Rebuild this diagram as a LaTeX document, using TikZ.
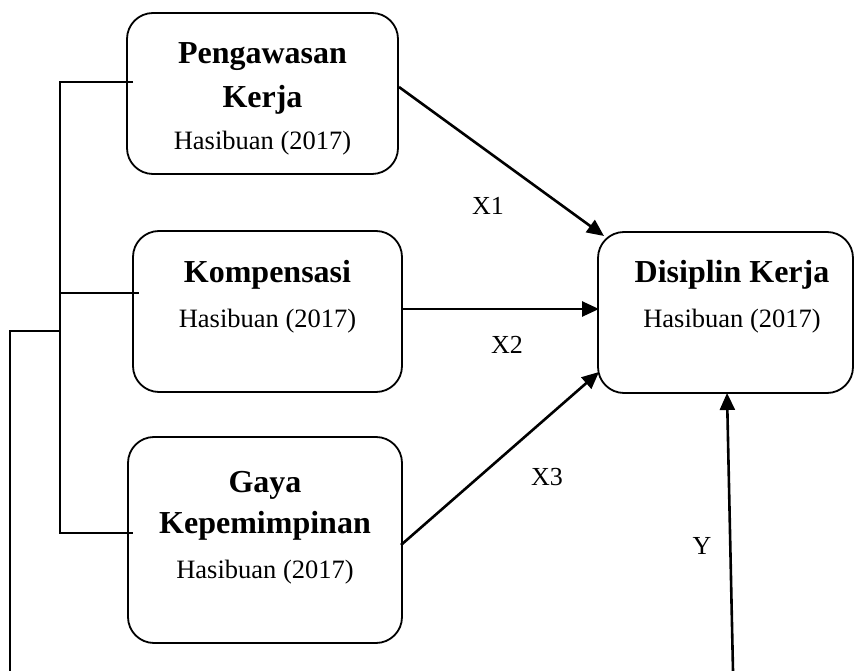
\documentclass[tikz,border=0pt]{standalone}
\usepackage{fontspec}
\setmainfont{Liberation Serif}
\usetikzlibrary{arrows.meta}
\tikzset{
  boxnode/.style={draw, line width=1.8pt, rounded corners=26pt, inner sep=0pt, minimum width=#1},
  titletext/.style={anchor=base, inner sep=0pt, font=\fontsize{32}{38}\selectfont\bfseries},
  reftext/.style={anchor=base, inner sep=0pt, font=\fontsize{26.5}{32}\selectfont},
  lbl/.style={anchor=base, inner sep=0pt, font=\fontsize{26}{32}\selectfont},
  conn/.style={line width=2.6pt, -{Triangle[length=17pt,width=15pt]}},
  brk/.style={line width=1.6pt}
}
\begin{document}
\begin{tikzpicture}[x=1pt,y=-1pt]
\useasboundingbox (0,0) rectangle (855,671);
% boxes
\node[boxnode=271pt, minimum height=161pt] (b1) at (262.5,93.5) {};
\node[boxnode=269pt, minimum height=161pt] (b2) at (267.5,311.5) {};
\node[boxnode=274pt, minimum height=206pt] (b3) at (265,540) {};
\node[boxnode=255pt, minimum height=161pt] (b4) at (725.5,312.5) {};
% texts
\node[titletext] (t1a) at (262.5,64) {Pengawasan};
\node[titletext] (t1b) at (262.5,108) {Kerja};
\node[reftext] (t1c) at (262.5,150) {Hasibuan (2017)};
\node[titletext] (t2a) at (267.5,283) {Kompensasi};
\node[reftext] (t2b) at (267.5,327) {Hasibuan (2017)};
\node[titletext] (t3a) at (265,492) {Gaya};
\node[titletext] (t3b) at (265,533) {Kepemimpinan};
\node[reftext] (t3c) at (265,578) {Hasibuan (2017)};
\node[titletext] (t4a) at (732,283) {Disiplin Kerja};
\node[reftext] (t4b) at (732,328) {Hasibuan (2017)};
% arrow endpoints
\coordinate (s1) at (399,87);
\coordinate (e1) at (604,236);
\coordinate (s2) at (401,309);
\coordinate (e2) at (599,309);
\coordinate (s3) at (401,545);
\coordinate (e3) at (599,372);
\coordinate (sy) at (733,671);
\coordinate (ey) at (727,393);
\draw[conn] (s1) -- (e1);
\draw[conn] (s2) -- (e2);
\draw[conn] (s3) -- (e3);
\draw[conn] (sy) -- (ey);
% labels
\node[lbl] (lx1) at (488,215) {X1};
\node[lbl] (lx2) at (507,354) {X2};
\node[lbl] (lx3) at (547,485) {X3};
\node[lbl] (ly) at (702,554) {Y};
% bracket
\coordinate (k1) at (60,82);
\coordinate (k1e) at (133,82);
\coordinate (k2) at (60,293);
\coordinate (k2e) at (139,293);
\coordinate (k3) at (60,533);
\coordinate (k3e) at (133,533);
\coordinate (ko) at (60,331);
\coordinate (kb) at (10,331);
\coordinate (kbb) at (10,671);
\draw[brk] (k1e) -- (k1) -- (k3) -- (k3e);
\draw[brk] (k2) -- (k2e);
\draw[brk] (ko) -- (kb) -- (kbb);
\end{tikzpicture}
\end{document}
